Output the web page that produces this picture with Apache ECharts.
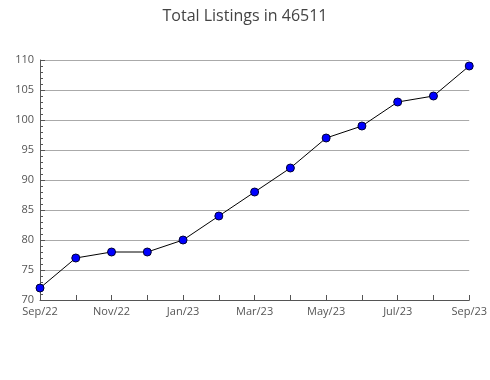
<!DOCTYPE html>
<html><head><meta charset="utf-8">
<script src="https://cdn.jsdelivr.net/npm/echarts@6/dist/echarts.min.js"></script>
<style>html,body{margin:0;padding:0;background:#fff}#c{width:490px;height:380px}</style>
</head><body><div id="c"></div>
<script>
const categories = ['Sep/22','Oct/22','Nov/22','Dec/22','Jan/23','Feb/23','Mar/23','Apr/23','May/23','Jun/23','Jul/23','Aug/23','Sep/23'];
const values = [72,77,78,78,80,84,88,92,97,99,103,104,109];
const yTicks = [70,75,80,85,90,95,100,105,110];
const title = 'Total Listings in 46511';

const chart = echarts.init(document.getElementById('c'), null, {renderer:'canvas'});
const font = 'Open Sans';
chart.setOption({
  animation:false,
  title:{text:title,left:'center',top:3,textStyle:{fontFamily:font,fontSize:16,fontWeight:'normal',color:'#444'}},
  grid:{left:40,right:20,top:60,bottom:80,containLabel:false},
  xAxis:{type:'category',data:categories,boundaryGap:false,
    axisLine:{lineStyle:{color:'#555',width:1}},
    axisTick:{inside:true,length:5,interval:0,lineStyle:{color:'#555'}},
    axisLabel:{interval:1,color:'#555',fontFamily:font,fontSize:11,margin:6},
    splitLine:{show:false}},
  yAxis:{type:'value',min:yTicks[0],max:yTicks[yTicks.length-1],interval:5,
    axisLine:{show:true,lineStyle:{color:'#555',width:1}},
    axisTick:{show:true,inside:true,length:5,lineStyle:{color:'#555'}},
    minorTick:{show:true,splitNumber:5,length:3,lineStyle:{color:'#555'}},
    axisLabel:{color:'#555',fontFamily:font,fontSize:11,margin:6},
    splitLine:{show:true,lineStyle:{color:'#aaa',width:1}}},
  series:[{type:'line',data:values,symbol:'circle',symbolSize:8,
    lineStyle:{color:'#000',width:1},
    itemStyle:{color:'#0000ff',borderColor:'#000033',borderWidth:1}}]
});
</script></body></html>
